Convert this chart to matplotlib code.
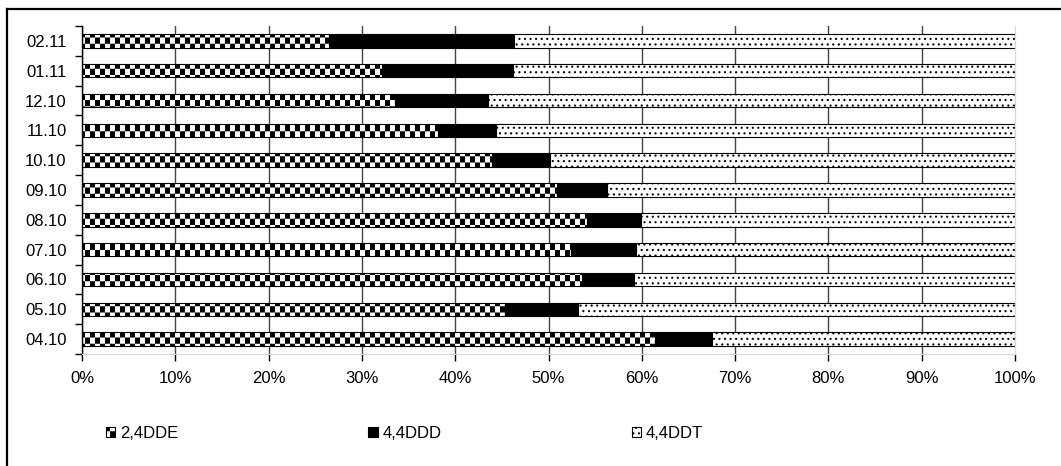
import numpy as np
import matplotlib
matplotlib.use("Agg")
import matplotlib.pyplot as plt
import matplotlib.hatch as mhatch
from matplotlib.path import Path
from matplotlib.lines import Line2D

# months, bottom row first
months = ["04.10", "05.10", "06.10", "07.10", "08.10", "09.10",
          "10.10", "11.10", "12.10", "01.11", "02.11"]
dde = [61.4, 45.3, 53.6, 52.4, 54.1, 50.9, 43.9, 38.2, 33.5, 32.2, 26.5]
ddd = [6.1, 7.9, 5.6, 7.0, 5.8, 5.4, 6.3, 6.2, 10.0, 14.0, 19.8]
ddt = [32.5, 46.8, 40.8, 40.6, 40.1, 43.7, 49.8, 55.6, 56.5, 53.8, 53.7]
x_ticks = [0, 10, 20, 30, 40, 50, 60, 70, 80, 90, 100]


# checkerboard hatch (takes the place of the 'O' pattern)
class Checker(mhatch.HatchPatternBase):
    def __init__(self, hatch, density):
        on = hatch.count('O') > 0
        self.nx = 20 if on else 0
        self.ny = 16 if on else 0
        self.num_vertices = (self.nx * self.ny // 2) * 5

    def set_vertices_and_codes(self, vertices, codes):
        sx, sy = 1.0 / self.nx, 1.0 / self.ny
        k = 0
        for i in range(self.nx):
            for j in range(self.ny):
                if (i + j) % 2:
                    continue
                x, y = i * sx, j * sy
                vertices[k:k + 5] = [(x, y), (x + sx, y), (x + sx, y + sy), (x, y + sy), (x, y)]
                codes[k:k + 5] = [Path.MOVETO, Path.LINETO, Path.LINETO, Path.LINETO, Path.CLOSEPOLY]
                k += 5


mhatch._hatch_types = [t for t in mhatch._hatch_types if t is not mhatch.LargeCircles] + [Checker]
mhatch.SmallFilledCircles.size = 0.2

plt.rcParams['font.family'] = ['Liberation Sans', 'DejaVu Sans']
plt.rcParams['hatch.linewidth'] = 0.01

fig = plt.figure(figsize=(10.61, 4.66), dpi=100)
ax = fig.add_axes([82 / 1061, 1 - 354 / 466, 933 / 1061, (354 - 26) / 466])

y = np.arange(len(months))
left2 = np.array(dde)
left3 = left2 + np.array(ddd)
h = 0.45

ax.barh(y, dde, height=h, color="white", edgecolor="black", linewidth=0.8, hatch="OO", label="2,4DDE")
ax.barh(y, ddd, left=left2, height=h, color="black", edgecolor="black", linewidth=0.8, label="4,4DDD")
ax.barh(y, ddt, left=left3, height=h, color="white", edgecolor="black", linewidth=0.8, hatch="...", label="4,4DDT")

ax.set_xlim(0, 100)
ax.set_ylim(-0.5, len(months) - 0.5)

ax.set_xticks(x_ticks, [f"{v}%" for v in x_ticks])
ax.set_yticks(y, months)
ax.set_yticks(np.arange(-0.5, len(months), 1), minor=True)
ax.tick_params(axis="x", direction="out", length=5, width=1, color="black", pad=7, labelsize=12)
ax.tick_params(axis="y", which="major", length=0, pad=11, labelsize=12)
ax.tick_params(axis="y", which="minor", direction="out", length=5, width=1, color="black")

# grid
ax.set_axisbelow(True)
ax.grid(axis="x", color="#444444", linewidth=1)
ax.xaxis.get_gridlines()[-1].set_visible(False)

ax.spines['top'].set_visible(False)
ax.spines['right'].set_color("#d8d8d8")
ax.spines['bottom'].set_color("#d8d8d8")
ax.spines['left'].set_color("black")
ax.spines['left'].set_linewidth(1)

fig.legend(loc="center left", bbox_to_anchor=(106 / 1061, 1 - 433 / 466), ncol=3, frameon=False,
           fontsize=12, handlelength=0.55, handleheight=0.55, handletextpad=0.3,
           columnspacing=11.4, borderpad=0, borderaxespad=0)

# outer frame
fig.add_artist(Line2D([7 / 1061, 7 / 1061], [0, 1 - 9 / 466], transform=fig.transFigure, color="black", linewidth=1.6))
fig.add_artist(Line2D([7 / 1061, 1], [1 - 9 / 466, 1 - 9 / 466], transform=fig.transFigure, color="black", linewidth=1.6))

fig.savefig("out.png", dpi=100)
